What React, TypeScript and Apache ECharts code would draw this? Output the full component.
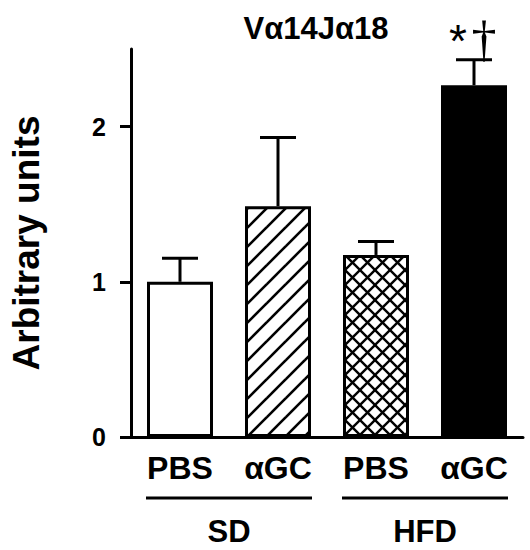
import React, { useEffect, useRef } from "react";
import * as echarts from "echarts";

const categories = ["PBS", "αGC", "PBS", "αGC"];
const means = [1.0, 1.487, 1.173, 2.267];
const errors = [0.152, 0.442, 0.087, 0.163];
const annotations = ["", "", "", "*†"];
const groupLabels = ["SD", "HFD"];
const groupStart = [0, 2];
const groupEnd = [1, 3];
const yTicks = [0, 1, 2];
const yMax = 2.5;
const titleText = "Vα14Jα18";
const yName = "Arbitrary units";

const FONT = "'Liberation Sans', Arial, Helvetica, sans-serif";

function makeHatch(size: number, dirs: string[], lw: number): HTMLCanvasElement {
  const c = document.createElement("canvas");
  c.width = size;
  c.height = size;
  const ctx = c.getContext("2d")!;
  ctx.fillStyle = "#ffffff";
  ctx.fillRect(0, 0, size, size);
  ctx.strokeStyle = "#000000";
  ctx.lineWidth = lw;
  for (const d of dirs) {
    for (let k = -1; k <= 2; k++) {
      ctx.beginPath();
      if (d === "/") {
        ctx.moveTo(-size, k * size + size);
        ctx.lineTo(2 * size, k * size - 2 * size);
      } else {
        ctx.moveTo(-size, k * size - size);
        ctx.lineTo(2 * size, k * size + 2 * size);
      }
      ctx.stroke();
    }
  }
  return c;
}

export default function App() {
  const ref = useRef<HTMLDivElement>(null);
  useEffect(() => {
    document.body.style.margin = "0";
    if (!ref.current) return;
    const chart = echarts.init(ref.current, null, { renderer: "svg" });

    const fills: any[] = [
      "#ffffff",
      { image: makeHatch(19, ["/"], 2.6), repeat: "repeat" },
      { image: makeHatch(15, ["/", "\\"], 2.4), repeat: "repeat" },
      "#000000",
    ];

    const barData = means.map((v, i) => ({
      value: v,
      itemStyle: { color: fills[i], borderColor: "#000", borderWidth: 3 },
    }));
    const errData = means.map((v, i) => [i, v, v + errors[i]]);
    const groupData = groupLabels.map((g, i) => [groupStart[i], 0, groupEnd[i]]);

    const option: any = {
      animation: false,
      backgroundColor: "#ffffff",
      grid: { left: 128, right: 7, top: 49, bottom: 113 },
      graphic: [
        {
          type: "text",
          x: 316,
          y: 28,
          style: {
            text: titleText,
            fontFamily: FONT,
            fontWeight: "bold",
            fontSize: 31,
            fill: "#000",
            align: "center",
            verticalAlign: "middle",
          },
        },
      ],
      xAxis: {
        type: "category",
        data: categories,
        axisLine: { show: true, lineStyle: { color: "#000", width: 3 } },
        axisTick: { show: false },
        axisLabel: {
          color: "#000",
          fontFamily: FONT,
          fontWeight: "bold",
          fontSize: 32,
          margin: 15,
        },
      },
      yAxis: {
        type: "value",
        min: 0,
        max: yMax,
        interval: 1,
        name: yName,
        nameLocation: "middle",
        nameRotate: 90,
        nameGap: 86,
        nameTextStyle: {
          color: "#000",
          fontFamily: FONT,
          fontWeight: "bold",
          fontSize: 37,
        },
        splitLine: { show: false },
        axisLine: { show: true, lineStyle: { color: "#000", width: 3 } },
        axisTick: {
          show: true,
          length: 11,
          lineStyle: { color: "#000", width: 3 },
          customValues: yTicks,
        },
        axisLabel: {
          color: "#000",
          fontFamily: FONT,
          fontWeight: "bold",
          fontSize: 25,
          margin: 25,
          customValues: yTicks,
        },
      },
      series: [
        {
          type: "bar",
          data: barData,
          barWidth: 66,
          z: 2,
        },
        {
          type: "custom",
          z: 3,
          clip: false,
          encode: { x: 0, y: [1, 2] },
          data: errData,
          renderItem: (params: any, api: any) => {
            const i = api.value(0);
            const top = api.coord([i, api.value(1)]);
            const cap = api.coord([i, api.value(2)]);
            const children: any[] = [
              {
                type: "line",
                shape: { x1: top[0], y1: top[1], x2: cap[0], y2: cap[1] },
                style: { stroke: "#000", lineWidth: 3 },
              },
              {
                type: "line",
                shape: { x1: cap[0] - 18, y1: cap[1], x2: cap[0] + 18, y2: cap[1] },
                style: { stroke: "#000", lineWidth: 3 },
              },
            ];
            const ann = annotations[params.dataIndex];
            if (ann) {
              children.push({
                type: "text",
                x: cap[0] - 16,
                y: cap[1] - 19,
                style: {
                  text: ann.charAt(0),
                  fontFamily: FONT,
                  fontSize: 46,
                  fill: "#000",
                  align: "center",
                  verticalAlign: "middle",
                },
              });
              children.push({
                type: "text",
                x: cap[0] + 10,
                y: cap[1] - 21,
                style: {
                  text: ann.charAt(1),
                  fontFamily: "'Liberation Serif', 'DejaVu Serif', serif",
                  fontSize: 50,
                  fill: "#000",
                  align: "center",
                  verticalAlign: "middle",
                },
              });
            }
            return { type: "group", children };
          },
        },
        {
          type: "custom",
          z: 3,
          clip: false,
          encode: { x: 0, y: 1 },
          data: groupData,
          renderItem: (params: any, api: any) => {
            const a = api.coord([api.value(0), 0]);
            const b = api.coord([api.value(2), 0]);
            const half = 34;
            const ly = a[1] + 61;
            return {
              type: "group",
              children: [
                {
                  type: "line",
                  shape: { x1: a[0] - half, y1: ly, x2: b[0] + half, y2: ly },
                  style: { stroke: "#000", lineWidth: 3 },
                },
                {
                  type: "text",
                  x: (a[0] + b[0]) / 2,
                  y: a[1] + 94,
                  style: {
                    text: groupLabels[params.dataIndex],
                    fontFamily: FONT,
                    fontWeight: "bold",
                    fontSize: 31,
                    fill: "#000",
                    align: "center",
                    verticalAlign: "middle",
                  },
                },
              ],
            };
          },
        },
      ],
    };
    chart.setOption(option);
    return () => chart.dispose();
  }, []);
  return <div ref={ref} style={{ width: 530, height: 550 }} />;
}
